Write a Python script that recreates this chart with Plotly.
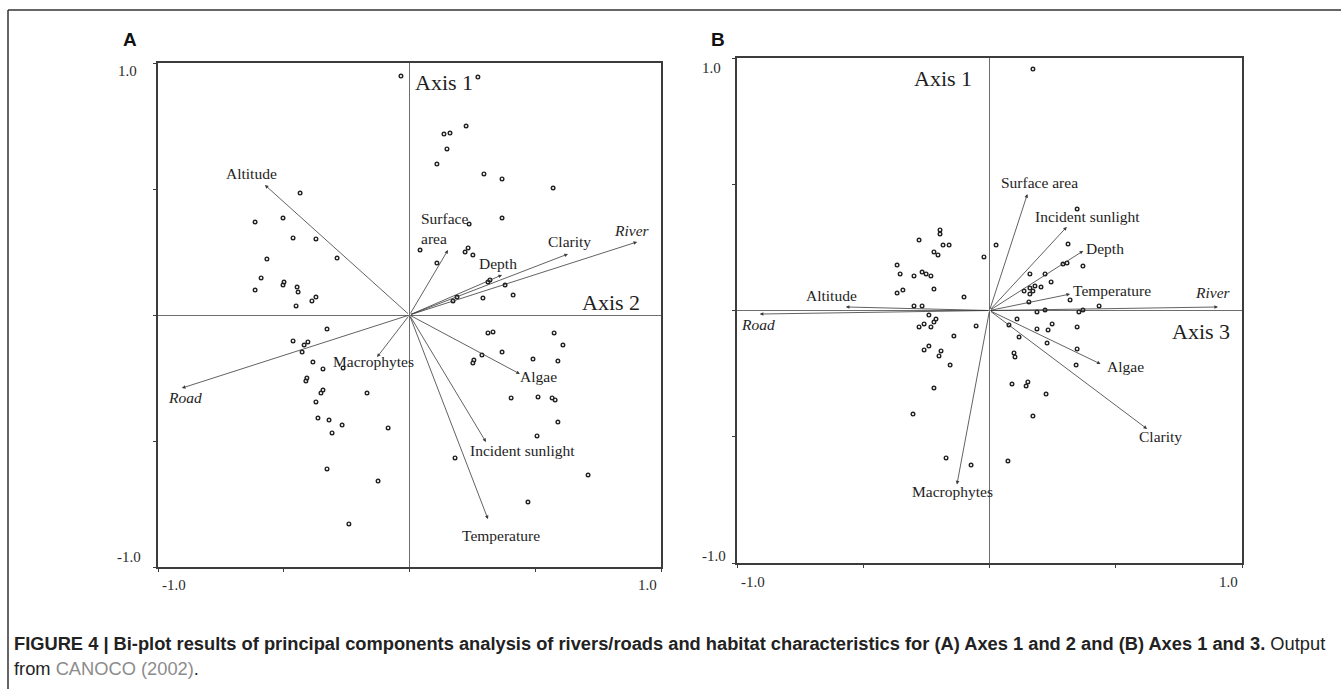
import plotly.graph_objects as go

W, H = 1341, 689

# ---------------- data ----------------
variables = ["Altitude", "Surface area", "Depth", "Clarity", "River", "Road",
             "Macrophytes", "Algae", "Incident sunlight", "Temperature"]
# Panel A (axes 1 and 2)
a_var_x = [-0.575, 0.153, 0.368, 0.630, 0.905, -0.905, -0.129, 0.439, 0.304, 0.312]
a_var_y = [0.516, 0.258, 0.159, 0.242, 0.290, -0.290, -0.167, -0.234, -0.504, -0.810]
# Panel B (axes 1 and 3)
b_var_x = [-0.569, 0.150, 0.371, 0.624, 0.905, -0.910, -0.129, 0.440, 0.306, 0.319]
b_var_y = [0.014, 0.461, 0.236, -0.469, 0.014, -0.014, -0.689, -0.212, 0.331, 0.065]

a_site_x = [-0.034, 0.272, 0.137, 0.161, 0.225, 0.149, 0.109, 0.296, 0.368, 0.571,
            -0.435, 0.368, 0.237, -0.614, -0.503, -0.463, -0.372, -0.288, -0.567, 0.042,
            0.109, 0.221, 0.233, 0.252, -0.59, -0.503, -0.499, -0.447, -0.443, -0.614,
            -0.388, -0.372, -0.451, 0.312, 0.32, 0.38, 0.412, 0.292, 0.173, 0.189,
            -0.328, -0.463, -0.404, -0.419, -0.427, -0.384, -0.344, -0.264, -0.408, -0.412,
            -0.344, -0.352, -0.372, -0.169, -0.364, -0.32, -0.268, -0.308, -0.085, -0.328,
            -0.125, -0.241, 0.181, 0.312, 0.332, 0.368, 0.288, 0.256, 0.252, 0.491,
            0.575, 0.61, 0.59, 0.404, 0.511, 0.567, 0.579, 0.59, 0.507, 0.71, 0.471]
a_site_y = [0.948, 0.944, 0.718, 0.722, 0.75, 0.659, 0.599, 0.56, 0.54, 0.504,
            0.484, 0.385, 0.361, 0.369, 0.385, 0.306, 0.302, 0.226, 0.222, 0.258,
            0.206, 0.25, 0.266, 0.238, 0.147, 0.119, 0.131, 0.111, 0.091, 0.099,
            0.056, 0.071, 0.036, 0.131, 0.139, 0.119, 0.079, 0.067, 0.056, 0.071,
            -0.056, -0.103, -0.107, -0.119, -0.147, -0.187, -0.214, -0.21, -0.25, -0.262,
            -0.298, -0.31, -0.345, -0.31, -0.409, -0.417, -0.437, -0.468, -0.448, -0.611,
            -0.659, -0.829, -0.567, -0.071, -0.067, -0.147, -0.159, -0.179, -0.19, -0.175,
            -0.071, -0.119, -0.183, -0.329, -0.325, -0.329, -0.337, -0.425, -0.48, -0.635, -0.742]

b_site_x = [0.172, 0.347, 0.026, -0.022, 0.311, 0.291, 0.307, 0.37, -0.279, -0.196,
            -0.196, -0.184, -0.16, -0.22, -0.204, -0.366, -0.354, -0.299, -0.267, -0.251,
            -0.232, -0.22, -0.366, -0.343, -0.101, -0.299, -0.267, 0.16, 0.22, 0.244,
            0.204, 0.18, 0.16, 0.137, 0.172, 0.16, 0.156, 0.319, 0.434, 0.188,
            0.22, 0.354, 0.37, -0.24, -0.212, -0.22, -0.259, -0.279, -0.232, -0.141,
            -0.053, -0.24, -0.259, -0.192, -0.2, -0.156, -0.22, -0.303, -0.172, -0.073,
            0.073, 0.109, 0.077, 0.117, 0.188, 0.232, 0.248, 0.228, 0.347, 0.347,
            0.343, 0.097, 0.101, 0.089, 0.152, 0.145, 0.224, 0.172]
b_site_y = [0.956, 0.402, 0.259, 0.212, 0.263, 0.184, 0.188, 0.176, 0.279, 0.303,
            0.319, 0.259, 0.259, 0.232, 0.22, 0.18, 0.145, 0.137, 0.152, 0.145,
            0.137, 0.085, 0.069, 0.081, 0.053, 0.018, 0.018, 0.145, 0.145, 0.113,
            0.093, 0.097, 0.089, 0.077, 0.077, 0.065, 0.034, 0.042, 0.018, -0.006,
            0.002, -0.006, 0.002, -0.018, -0.034, -0.046, -0.053, -0.065, -0.065, -0.101,
            -0.061, -0.141, -0.156, -0.16, -0.18, -0.216, -0.307, -0.41, -0.584, -0.612,
            -0.596, -0.034, -0.057, -0.105, -0.073, -0.077, -0.053, -0.129, -0.065, -0.152,
            -0.216, -0.168, -0.184, -0.291, -0.283, -0.299, -0.331, -0.418]

tick_vals = [-1.0, -0.5, 0.0, 0.5, 1.0]

# ---------------- styling (pixel offsets of labels relative to arrow tips) -------
a_lab_shift = {"Altitude": (-13, 11), "Surface area": (-29, 21, "left"), "Depth": (-4, 11),
               "Clarity": (2, 13), "River": (-5, 11), "Road": (3, -9),
               "Macrophytes": (-4, -4), "Algae": (19, -3),
               "Incident sunlight": (37, -8), "Temperature": (13, -16)}
b_lab_shift = {"Altitude": (-14, 11), "Surface area": (12, 12), "Depth": (22, 2),
               "Clarity": (13, -8), "River": (-5, 14), "Road": (-2, -10),
               "Macrophytes": (-4, -7), "Algae": (25, -2),
               "Incident sunlight": (21, 10), "Temperature": (42, 4)}

SERIF = "Liberation Serif, Times New Roman, serif"
SANS = "Liberation Sans, Arial, sans-serif"
TXT = "#1e1e1e"


def px(v):
    return v / W


def py(v):
    return 1 - v / H


fig = go.Figure()

panels = [
    dict(xa="x", ya="y", xdom=[px(158), px(661)], ydom=[py(567), py(63)],
         vx=a_var_x, vy=a_var_y, sx=a_site_x, sy=a_site_y, shift=a_lab_shift),
    dict(xa="x2", ya="y2", xdom=[px(737), px(1242)], ydom=[py(563), py(58)],
         vx=b_var_x, vy=b_var_y, sx=b_site_x, sy=b_site_y, shift=b_lab_shift),
]

annotations = []
for i, p in enumerate(panels):
    fig.add_trace(go.Scatter(
        x=p["sx"], y=p["sy"], mode="markers", xaxis=p["xa"], yaxis=p["ya"],
        marker=dict(symbol="circle-open", size=3.6, color="#222", line=dict(width=1.4)),
        hoverinfo="skip", showlegend=False))
    for name, vx, vy in zip(variables, p["vx"], p["vy"]):
        annotations.append(dict(
            x=vx, y=vy, ax=0, ay=0, xref=p["xa"], yref=p["ya"],
            axref=p["xa"], ayref=p["ya"], text="", showarrow=True,
            arrowhead=2, arrowsize=0.9, arrowwidth=0.8, arrowcolor="#3a3a3a",
            standoff=0, startstandoff=0))
        sh = p["shift"][name]
        label = name
        if name in ("River", "Road"):
            label = "<i>%s</i>" % name
        if i == 0 and name == "Surface area":
            label = "Surface<br>area"
        annotations.append(dict(
            x=vx, y=vy, xref=p["xa"], yref=p["ya"], text=label, showarrow=False,
            xshift=sh[0], yshift=sh[1],
            xanchor=sh[2] if len(sh) > 2 else "center", align="left",
            font=dict(family=SERIF, size=15.5, color=TXT)))

axis_common = dict(range=[-1, 1], showgrid=False, zeroline=True,
                   zerolinecolor="#6e6e6e", zerolinewidth=1,
                   showline=True, linecolor="#3c3c3c", linewidth=1.6, mirror=True,
                   ticks="outside", ticklen=3, tickwidth=1.2, tickcolor="#3c3c3c",
                   tickvals=tick_vals, showticklabels=False, fixedrange=True)

fig.update_layout(
    xaxis=dict(domain=panels[0]["xdom"], anchor="y", **axis_common),
    yaxis=dict(domain=panels[0]["ydom"], anchor="x", **axis_common),
    xaxis2=dict(domain=panels[1]["xdom"], anchor="y2", **axis_common),
    yaxis2=dict(domain=panels[1]["ydom"], anchor="x2", **axis_common),
)

# axis-name labels
big = dict(family=SERIF, size=22, color=TXT)
annotations += [
    dict(x=0, y=1, xref="x", yref="y", text="Axis 1", showarrow=False,
         xanchor="left", yanchor="middle", xshift=3, yshift=-19, font=big),
    dict(x=1, y=0, xref="x", yref="y", text="Axis 2", showarrow=False,
         xanchor="right", yanchor="middle", xshift=-19, yshift=13, font=big),
    dict(x=0, y=1, xref="x2", yref="y2", text="Axis 1", showarrow=False,
         xanchor="right", yanchor="middle", xshift=-16, yshift=-20, font=big),
    dict(x=1, y=0, xref="x2", yref="y2", text="Axis 3", showarrow=False,
         xanchor="right", yanchor="middle", xshift=-10, yshift=-21, font=big),
]

# tick labels at the extremes
tk = dict(family=SERIF, size=15, color="#2a2a2a")
for xa, ya, yl_top, yl_bot, xl_b in [("x", "y", (-19, -8), (-15, 10), 18),
                                     ("x2", "y2", (-14, -10), (-9, 7), 19)]:
    annotations += [
        dict(x=-1, y=1, xref=xa, yref=ya, text="1.0", showarrow=False, xanchor="right",
             yanchor="middle", xshift=yl_top[0], yshift=yl_top[1], font=tk),
        dict(x=-1, y=-1, xref=xa, yref=ya, text="-1.0", showarrow=False, xanchor="right",
             yanchor="middle", xshift=yl_bot[0], yshift=yl_bot[1], font=tk),
        dict(x=-1, y=-1, xref=xa, yref=ya, text="-1.0", showarrow=False, xanchor="left",
             yanchor="middle", xshift=2, yshift=-xl_b, font=tk),
        dict(x=1, y=-1, xref=xa, yref=ya, text="1.0", showarrow=False, xanchor="right",
             yanchor="middle", xshift=-2, yshift=-xl_b, font=tk),
    ]

# panel letters
annotations += [
    dict(x=px(121), y=py(40), xref="paper", yref="paper", text="<b>A</b>",
         showarrow=False, xanchor="left", yanchor="middle",
         font=dict(family=SANS, size=19, color="#111")),
    dict(x=px(709), y=py(40), xref="paper", yref="paper", text="<b>B</b>",
         showarrow=False, xanchor="left", yanchor="middle",
         font=dict(family=SANS, size=19, color="#111")),
]

# caption
cap1 = ("<b>FIGURE 4 | Bi-plot results of principal components analysis of rivers/roads and "
        "habitat characteristics for (A) Axes 1 and 2 and (B) Axes 1 and 3.</b> Output")
cap2 = "from <span style='color:#8c8c8c'>CANOCO (2002)</span>."
annotations += [
    dict(x=px(12), y=py(643), xref="paper", yref="paper", text=cap1, showarrow=False,
         xanchor="left", yanchor="middle", font=dict(family=SANS, size=18.3, color="#222")),
    dict(x=px(12), y=py(668), xref="paper", yref="paper", text=cap2, showarrow=False,
         xanchor="left", yanchor="middle", font=dict(family=SANS, size=18.3, color="#222")),
]

shapes = [
    dict(type="line", xref="paper", yref="paper", x0=px(8), x1=1.0, y0=py(10), y1=py(10),
         line=dict(color="#333", width=1.5)),
    dict(type="line", xref="paper", yref="paper", x0=px(8), x1=px(8), y0=py(10), y1=0,
         line=dict(color="#333", width=1.5)),
]

fig.update_layout(
    width=W, height=H, autosize=False,
    margin=dict(l=0, r=0, t=0, b=0),
    paper_bgcolor="white", plot_bgcolor="white",
    annotations=annotations, shapes=shapes, showlegend=False,
)

fig.write_html("out.html", config={"displayModeBar": False},
               post_script="document.body.style.margin='0px';"
                           "document.body.style.overflow='hidden';")
